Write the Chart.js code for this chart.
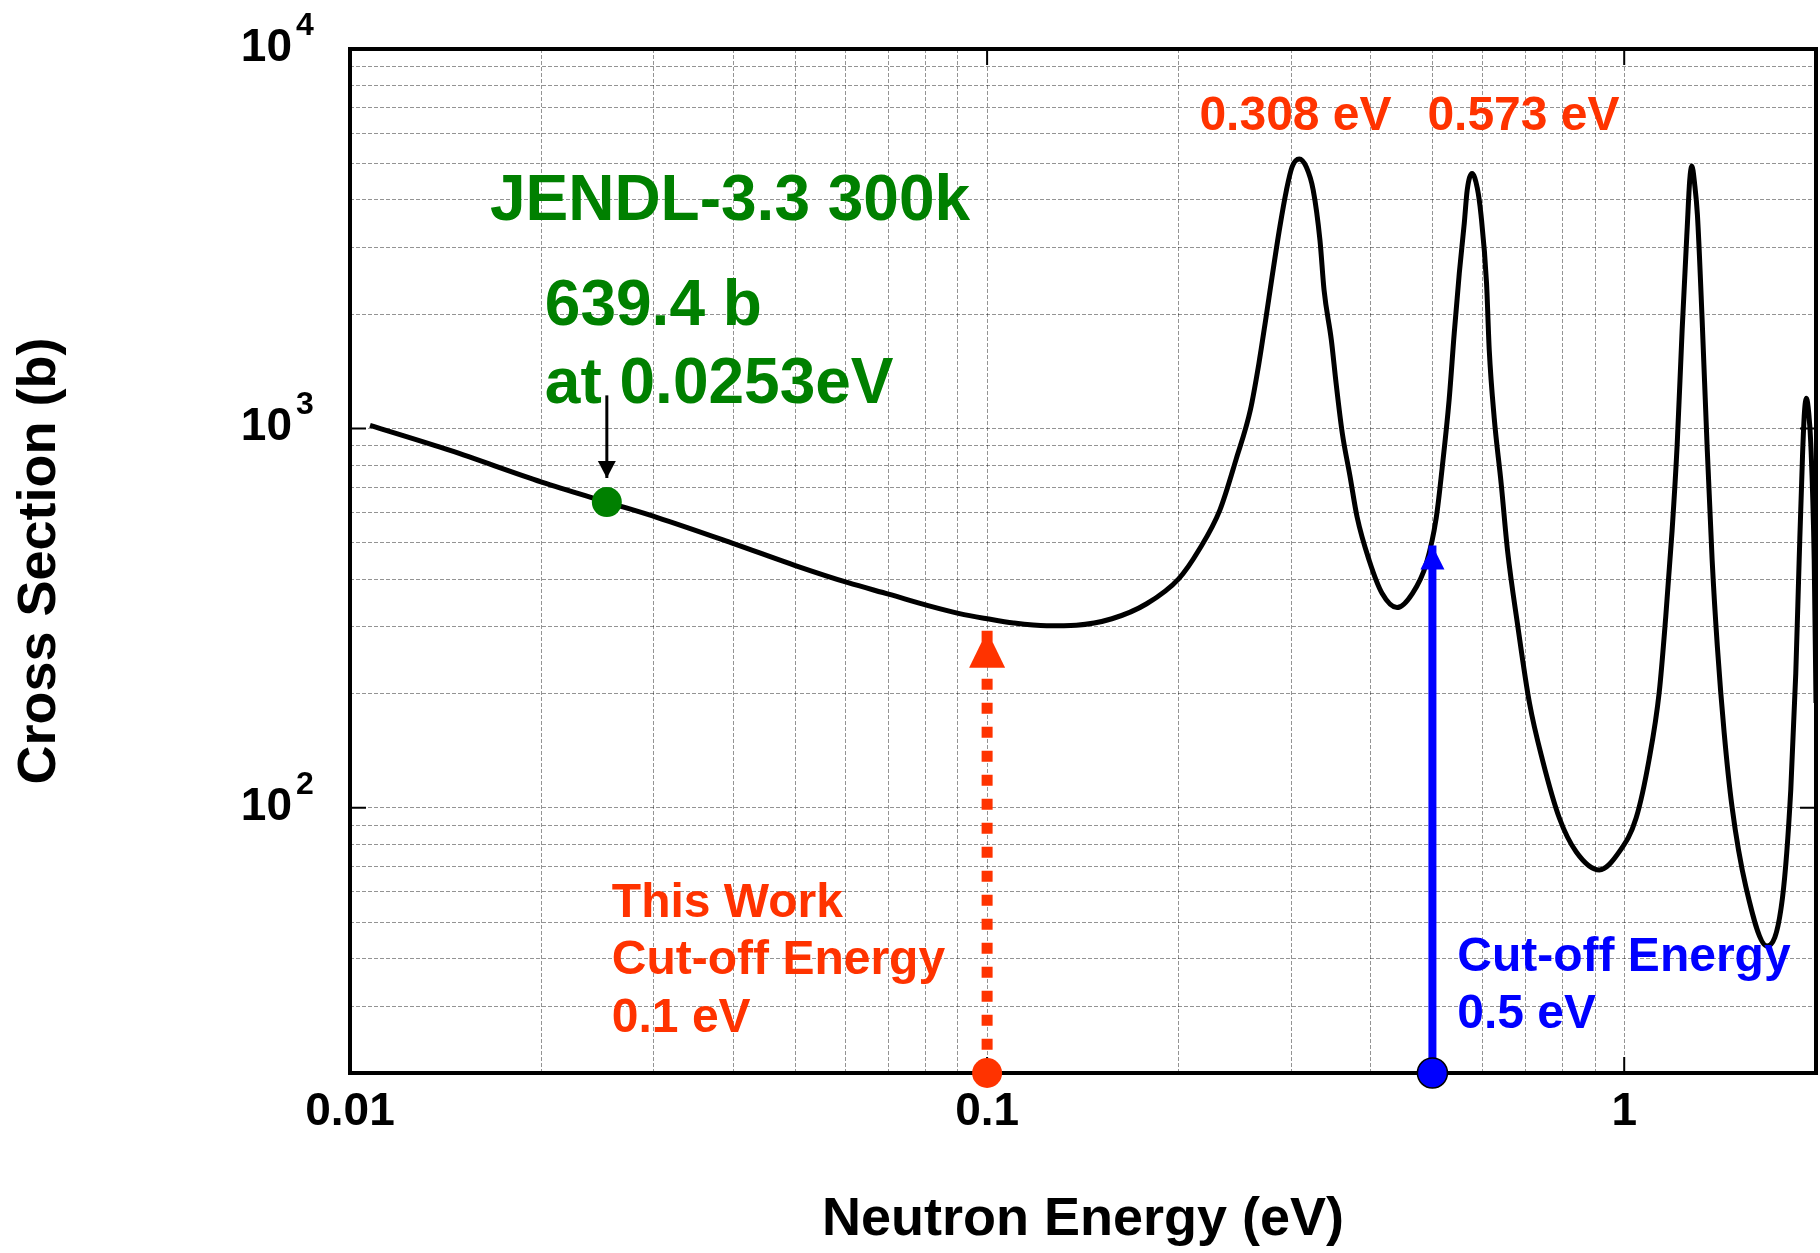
<!DOCTYPE html>
<html>
<head>
<meta charset="utf-8">
<title>Neutron cross section</title>
<script src="https://cdn.jsdelivr.net/npm/chart.js@4.4.1/dist/chart.umd.min.js"></script>
<style>
  html, body { margin: 0; padding: 0; background: #fff; }
  canvas { display: block; }
</style>
</head>
<body>
<canvas id="xs-chart" width="1820" height="1253"></canvas>
<script>
// Curve (energy in eV, cross section in b)
const energyEV = [0.01075, 0.01436, 0.02, 0.0253, 0.0303, 0.04, 0.05, 0.0605, 0.0703, 0.0808, 0.0905, 0.1, 0.11, 0.124, 0.138, 0.157, 0.178, 0.2, 0.215, 0.232, 0.246, 0.259, 0.267, 0.274, 0.28, 0.288, 0.295, 0.301, 0.309, 0.317, 0.325, 0.333, 0.338, 0.347, 0.353, 0.361, 0.371, 0.381, 0.398, 0.417, 0.44, 0.465, 0.489, 0.507, 0.518, 0.531, 0.541, 0.551, 0.561, 0.567, 0.577, 0.588, 0.596, 0.608, 0.614, 0.625, 0.641, 0.656, 0.68, 0.71, 0.744, 0.791, 0.841, 0.914, 0.982, 1.044, 1.094, 1.135, 1.162, 1.189, 1.211, 1.233, 1.256, 1.267, 1.277, 1.29, 1.303, 1.325, 1.349, 1.374, 1.4, 1.435, 1.476, 1.552, 1.676, 1.772, 1.826, 1.859, 1.882, 1.905, 1.918, 1.932, 1.948, 1.963, 1.987, 2.0];
const crossSectionB = [1019, 875, 722, 639.4, 583, 497, 435, 392, 365, 341, 325, 315, 307, 302, 303, 315, 345, 402, 478, 610, 830, 1120, 1480, 1960, 2500, 3390, 4245, 4885, 5130, 4885, 4245, 3134, 2312, 1709, 1315, 971, 752, 582, 448, 367, 337, 367, 440, 582, 789, 1185, 1782, 2566, 3475, 4250, 4700, 4300, 3650, 2415, 1607, 1069, 716, 476, 305, 189, 134, 94, 76.5, 68.6, 76.5, 94, 134, 202, 319, 538, 907, 1824, 3410, 4500, 4914, 4400, 3646, 1950, 907, 451, 267, 158, 101, 62, 43.2, 58, 112, 226, 451, 849, 1100, 1200, 1100, 907, 451, 189];

// marked points: thermal value and the two cut-off energies
const markerEnergy = [0.0253, 0.1, 0.5];
const markerSigma = [639.4, 20, 20];

// axis ticks (grid lines at every 1..9 x decade)
const xTickValues = [0.01, 0.02, 0.03, 0.04, 0.05, 0.06, 0.07, 0.08, 0.09, 0.1, 0.2, 0.3, 0.4, 0.5, 0.6, 0.7, 0.8, 0.9, 1, 2];
const xLabelValues = [0.01, 0.1, 1];
const xLabelText = ['0.01', '0.1', '1'];
const yTickValues = [20, 30, 40, 50, 60, 70, 80, 90, 100, 200, 300, 400, 500, 600, 700, 800, 900, 1000, 2000, 3000, 4000, 5000, 6000, 7000, 8000, 9000, 10000];
const yDecades = [100, 1000, 10000];
const yDecadeExp = ['2', '3', '4'];

const FONT = "'Liberation Sans', Arial, Helvetica, sans-serif";
const RED = '#ff3300';
const GREEN = '#008000';
const BLUE = '#0000ff';

// arrows: shaft from -> tip, at energy x (dir 1 = points up, -1 = points down)
const arrows = [
    { x: 0.1, from: 20, tip: 293, color: RED, width: 11, dash: [11, 13], headW: 36, headH: 37, dir: 1 },
    { x: 0.5, from: 20, tip: 491, color: BLUE, width: 8, dash: [], headW: 24, headH: 24, dir: 1 },
    { x: 0.0253, from: 1222, tip: 740, color: '#000', width: 3, dash: [], headW: 18, headH: 17, dir: -1 }
];

// text notes, anchored at (energy, cross section) = left edge / middle of text
const notes = [
    { text: 'JENDL-3.3 300k', x: 0.01658, y: 3948, color: GREEN, size: 64 },
    { text: '639.4 b', x: 0.02022, y: 2080, color: GREEN, size: 64 },
    { text: 'at 0.0253eV', x: 0.02022, y: 1302, color: GREEN, size: 64 },
    { text: '0.308 eV', x: 0.2154, y: 6635, color: RED, size: 48 },
    { text: '0.573 eV', x: 0.491, y: 6635, color: RED, size: 48 },
    { text: 'This Work', x: 0.02576, y: 56.0, color: RED, size: 48 },
    { text: 'Cut-off Energy', x: 0.02576, y: 39.6, color: RED, size: 48 },
    { text: '0.1 eV', x: 0.02576, y: 27.8, color: RED, size: 48 },
    { text: 'Cut-off Energy', x: 0.547, y: 40.2, color: BLUE, size: 48 },
    { text: '0.5 eV', x: 0.547, y: 28.4, color: BLUE, size: 48 }
];

Chart.defaults.font.family = FONT;

// frame, inner ticks, decade labels, arrow heads and notes
const decorPlugin = {
    id: 'decor',
    beforeDatasetsDraw(chart) {
        const { ctx, chartArea: a, scales: { x, y } } = chart;
        ctx.save();
        ctx.strokeStyle = '#000';
        ctx.lineWidth = 4;
        ctx.strokeRect(a.left, a.top, a.right - a.left, a.bottom - a.top);

        ctx.lineWidth = 2;
        ctx.beginPath();
        [0.1, 1].forEach(v => {
            const px = x.getPixelForValue(v);
            ctx.moveTo(px, a.bottom); ctx.lineTo(px, a.bottom - 16);
            ctx.moveTo(px, a.top); ctx.lineTo(px, a.top + 16);
        });
        [100, 1000].forEach(v => {
            const py = y.getPixelForValue(v);
            ctx.moveTo(a.left, py); ctx.lineTo(a.left + 16, py);
            ctx.moveTo(a.right, py); ctx.lineTo(a.right - 16, py);
        });
        ctx.stroke();
        ctx.restore();
    },
    afterDatasetsDraw(chart) {
        const { ctx, chartArea: a, scales: { x, y } } = chart;
        ctx.save();

        // arrow heads
        arrows.forEach(ar => {
            const px = x.getPixelForValue(ar.x);
            const py = y.getPixelForValue(ar.tip);
            const by = py + ar.dir * ar.headH;
            ctx.fillStyle = ar.color;
            ctx.beginPath();
            ctx.moveTo(px, py);
            ctx.lineTo(px - ar.headW / 2, by);
            ctx.lineTo(px + ar.headW / 2, by);
            ctx.closePath();
            ctx.fill();
        });

        // y decade labels 10^n
        ctx.fillStyle = '#000';
        ctx.textBaseline = 'alphabetic';
        yDecades.forEach((v, i) => {
            const py = y.getPixelForValue(v);
            ctx.font = `bold 46px ${FONT}`;
            ctx.textAlign = 'right';
            ctx.fillText('10', a.left - 58, py + 12);
            ctx.font = `bold 32px ${FONT}`;
            ctx.textAlign = 'left';
            ctx.fillText(yDecadeExp[i], a.left - 54, py - 14);
        });

        // notes
        ctx.textAlign = 'left';
        ctx.textBaseline = 'middle';
        notes.forEach(n => {
            ctx.font = `bold ${n.size}px ${FONT}`;
            ctx.fillStyle = n.color;
            ctx.fillText(n.text, x.getPixelForValue(n.x), y.getPixelForValue(n.y));
        });
        ctx.restore();
    }
};

const curve = energyEV.map((e, i) => ({ x: e, y: crossSectionB[i] }));
const markers = markerEnergy.map((e, i) => ({ x: e, y: markerSigma[i] }));

const datasets = [
    {
        label: 'markers',
        data: markers,
        showLine: false,
        pointRadius: 15,
        pointBackgroundColor: [GREEN, RED, BLUE],
        pointBorderColor: [GREEN, RED, '#000'],
        pointBorderWidth: [0, 0, 1.5],
        clip: false,
        order: 0
    }
];
arrows.forEach(ar => {
    datasets.push({
        label: 'arrow',
        data: [{ x: ar.x, y: ar.tip }, { x: ar.x, y: ar.from }],
        borderColor: ar.color,
        borderWidth: ar.width,
        borderDash: ar.dash,
        borderCapStyle: 'butt',
        pointRadius: 0,
        clip: false,
        order: 1
    });
});
datasets.push({
    label: 'JENDL-3.3 300k',
    data: curve,
    borderColor: '#000',
    borderWidth: 5,
    pointRadius: 0,
    cubicInterpolationMode: 'monotone',
    order: 2
});

const gridStyle = { color: 'rgba(0,0,0,0.42)', lineWidth: 1, drawTicks: false };

new Chart(document.getElementById('xs-chart').getContext('2d'), {
    type: 'line',
    data: { datasets },
    options: {
        responsive: false,
        animation: false,
        devicePixelRatio: 1,
        layout: { autoPadding: false, padding: { left: 0, top: 49, right: 4, bottom: 0 } },
        plugins: {
            legend: { display: false },
            tooltip: { enabled: false }
        },
        scales: {
            x: {
                type: 'logarithmic',
                position: 'bottom',
                min: 0.01,
                max: 2,
                afterBuildTicks: s => { s.ticks = xTickValues.map(v => ({ value: v })); },
                afterFit: s => {
                    s.height = 180;
                    s.paddingLeft = 0;
                    s.paddingRight = 0;
                },
                grid: gridStyle,
                border: { display: false, dash: [4, 2] },
                ticks: {
                    autoSkip: false,
                    maxRotation: 0,
                    padding: 12,
                    color: '#000',
                    font: { size: 46, weight: 'bold' },
                    callback: v => {
                        const i = xLabelValues.indexOf(v);
                        return i >= 0 ? xLabelText[i] : '';
                    }
                },
                title: {
                    display: true,
                    text: 'Neutron Energy (eV)',
                    color: '#000',
                    font: { size: 54, weight: 'bold' },
                    padding: { top: 0, bottom: 0 }
                }
            },
            y: {
                type: 'logarithmic',
                position: 'left',
                min: 20,
                max: 10000,
                afterBuildTicks: s => { s.ticks = yTickValues.map(v => ({ value: v })); },
                afterFit: s => { s.width = 350; },
                grid: gridStyle,
                border: { display: false, dash: [4, 2] },
                ticks: { display: false },
                title: {
                    display: true,
                    text: 'Cross Section (b)',
                    color: '#000',
                    font: { size: 54, weight: 'bold' },
                    padding: { top: 8, bottom: 0 }
                }
            }
        }
    },
    plugins: [decorPlugin]
});
</script>
</body>
</html>
